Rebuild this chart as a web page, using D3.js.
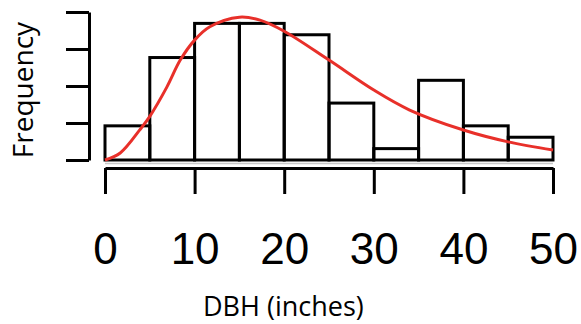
<!DOCTYPE html>
<html>
<head>
<meta charset="utf-8">
<script src="https://cdn.jsdelivr.net/npm/d3@7"></script>
<style>
  html, body { margin: 0; padding: 0; background: #fff; }
</style>
</head>
<body>
<script>
// histogram of DBH, bins of 5 inches
const binEdges = [0, 5, 10, 15, 20, 25, 30, 35, 40, 45, 50];
const counts = [3, 9, 12, 12, 11, 5, 1, 7, 3, 2];

// fitted density curve
const curveX = [0, 1.7, 3.9, 5, 6.9, 8.4, 10, 11.7, 15, 17.3, 20, 25, 30, 34, 40, 45, 50];
const curveY = [0, 0.0019, 0.0082, 0.0118, 0.0197, 0.027, 0.0324, 0.036, 0.0386, 0.0378,
                0.0348, 0.027, 0.0189, 0.0135, 0.0081, 0.0049, 0.0027];

const xTicks = [0, 10, 20, 30, 40, 50];
const yTicks = [0, 0.01, 0.02, 0.03, 0.04];

const width = 581, height = 324;
const n = d3.sum(counts);
const binWidth = 5;

const svg = d3.select('body')
  .append('svg')
  .attr('width', width)
  .attr('height', height)
  .attr('xmlns', 'http://www.w3.org/2000/svg');

const x = d3.scaleLinear().domain([0, 50]).range([105, 553]);
const y = d3.scaleLinear().domain([0, 0.04]).range([160, 12]);

// y axis (no labels)
const yAxis = svg.append('g')
  .attr('transform', 'translate(89,0)')
  .call(d3.axisLeft(y).tickValues(yTicks).tickSize(23).tickSizeOuter(0).tickFormat(''));
yAxis.selectAll('path, line').attr('stroke', '#000').attr('stroke-width', 3);

// faint line under the bars
svg.append('line')
  .attr('x1', x(0)).attr('x2', x(50))
  .attr('y1', 163.5).attr('y2', 163.5)
  .attr('stroke', '#c8c8c8').attr('stroke-width', 1.5);

// bars
const bins = counts.map((c, i) => ({x0: binEdges[i], x1: binEdges[i + 1], d: c / (n * binWidth)}));
svg.append('g')
  .selectAll('rect')
  .data(bins)
  .enter().append('rect')
  .attr('x', d => x(d.x0))
  .attr('y', d => y(d.d))
  .attr('width', d => x(d.x1) - x(d.x0))
  .attr('height', d => y(0) - y(d.d))
  .attr('fill', 'none')
  .attr('stroke', '#000')
  .attr('stroke-width', 3);

// density curve
const pts = curveX.map((v, i) => [v, curveY[i]]);
const line = d3.line()
  .x(d => x(d[0]))
  .y(d => y(d[1]))
  .curve(d3.curveCatmullRom.alpha(0.5));
svg.append('path')
  .datum(pts)
  .attr('d', line)
  .attr('fill', 'none')
  .attr('stroke', '#e8302a')
  .attr('stroke-width', 3);

// x axis
const xAxis = svg.append('g')
  .attr('transform', 'translate(0,168)')
  .call(d3.axisBottom(x).tickValues(xTicks).tickSize(26).tickSizeOuter(0));
xAxis.selectAll('path, line').attr('stroke', '#000').attr('stroke-width', 3);
xAxis.selectAll('text')
  .attr('y', 96)
  .attr('dy', 0)
  .attr('fill', '#000')
  .style('font-family', '"Liberation Sans", Arial, sans-serif')
  .style('font-size', '44px');

// axis titles
svg.append('text')
  .attr('x', 203)
  .attr('y', 316)
  .style('font-family', '"Open Sans", sans-serif')
  .style('font-size', '27px')
  .attr('fill', '#000')
  .text('DBH (inches)');

svg.append('text')
  .attr('transform', 'translate(33,90) rotate(-90)')
  .attr('text-anchor', 'middle')
  .style('font-family', '"Open Sans", sans-serif')
  .style('font-size', '28px')
  .attr('fill', '#000')
  .text('Frequency');
</script>
</body>
</html>
